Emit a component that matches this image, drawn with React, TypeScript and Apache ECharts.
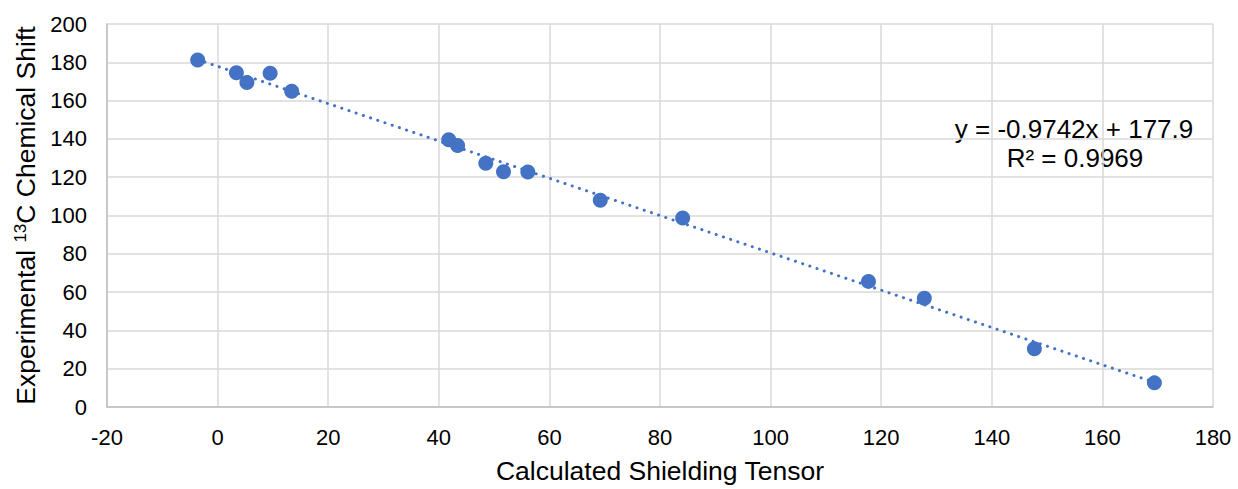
import React, { useEffect, useRef } from "react";
import * as echarts from "echarts";

const xValues = [-3.6, 3.4, 5.3, 9.5, 13.4, 41.8, 43.4, 48.5, 51.7, 56.1, 69.2, 84.1, 117.7, 127.8, 147.7, 169.4];
const yValues = [181.2, 174.6, 169.5, 174.3, 164.9, 139.6, 136.6, 127.3, 122.9, 122.7, 108.0, 98.7, 65.6, 56.8, 30.4, 12.6];
const slope = -0.9742;
const intercept = 177.9;
const equationLines = ["y = -0.9742x + 177.9", "R² = 0.9969"];

export default function App() {
  const ref = useRef<HTMLDivElement>(null);
  useEffect(() => {
    if (!ref.current) return;
    const chart = echarts.init(ref.current, null, { renderer: "svg" });
    const points = xValues.map((x, i) => [x, yValues[i]]);
    const minX = Math.min(...xValues);
    const maxX = Math.max(...xValues);
    const trend = [
      [minX, slope * minX + intercept],
      [maxX, slope * maxX + intercept],
    ];
    const font = "Liberation Sans, Arial, sans-serif";
    chart.setOption({
      animation: false,
      textStyle: { fontFamily: font },
      grid: { left: 107, right: 25, top: 24, bottom: 76 },
      xAxis: {
        type: "value",
        min: -20,
        max: 180,
        interval: 20,
        name: "Calculated Shielding Tensor",
        nameLocation: "middle",
        nameGap: 50,
        nameTextStyle: { fontSize: 26.5, color: "#000", fontFamily: font },
        axisLine: { show: true, onZero: false, lineStyle: { color: "#bfbfbf", width: 1.5 } },
        axisTick: { show: false },
        axisLabel: { fontSize: 22, color: "#000", margin: 19, fontFamily: font },
        splitLine: { show: true, lineStyle: { color: "#d9d9d9", width: 1.5 } },
      },
      yAxis: {
        type: "value",
        min: 0,
        max: 200,
        interval: 20,
        name: "{a|Experimental }{s|13}{a|C Chemical Shift}",
        nameLocation: "middle",
        nameGap: 67,
        nameTextStyle: {
          fontSize: 26.5,
          color: "#000",
          fontFamily: font,
          rich: {
            a: { fontSize: 26.5, color: "#000", fontFamily: font },
            s: { fontSize: 17, color: "#000", fontFamily: font, padding: [0, 0, 10, 0] },
          },
        },
        axisLine: { show: true, onZero: false, lineStyle: { color: "#bfbfbf", width: 1.5 } },
        axisTick: { show: false },
        axisLabel: { fontSize: 22, color: "#000", margin: 20, fontFamily: font },
        splitLine: { show: true, lineStyle: { color: "#d9d9d9", width: 1.5 } },
      },
      graphic: [
        {
          type: "text",
          x: 1074,
          y: 129,
          style: {
            text: equationLines[0],
            fontSize: 26,
            fontFamily: font,
            fill: "#000",
            align: "center",
            verticalAlign: "middle",
          },
        },
        {
          type: "text",
          x: 1075,
          y: 158,
          style: {
            text: equationLines[1],
            fontSize: 26,
            fontFamily: font,
            fill: "#000",
            align: "center",
            verticalAlign: "middle",
          },
        },
      ],
      series: [
        {
          type: "line",
          data: trend,
          symbol: "none",
          lineStyle: { color: "#4472C4", width: 3, type: [0.1, 7.5], cap: "round" },
          z: 2,
        },
        {
          type: "scatter",
          data: points,
          symbol: "circle",
          symbolSize: 15,
          itemStyle: { color: "#4472C4", opacity: 1 },
          z: 3,
        },
      ],
    });
    return () => chart.dispose();
  }, []);
  return <div ref={ref} style={{ width: 1238, height: 489, position: "absolute", left: 0, top: 0 }} />;
}
